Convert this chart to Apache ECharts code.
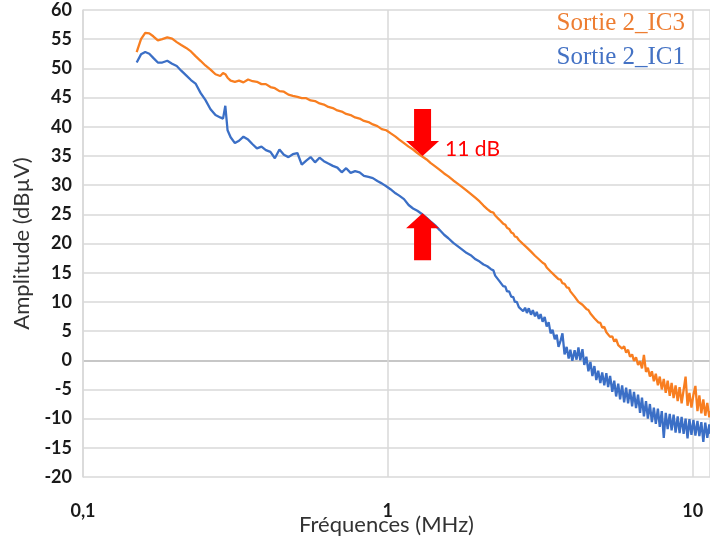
<!DOCTYPE html>
<html>
<head>
<meta charset="utf-8">
<script src="https://cdn.jsdelivr.net/npm/echarts@6/dist/echarts.min.js"></script>
<style>
  html, body { margin: 0; padding: 0; background: #ffffff; }
  #chart { width: 710px; height: 542px; }
</style>
</head>
<body>
<div id="chart"></div>
<script>
// Frequency sweep points (MHz)
const freqMHz = [
  0.150, 0.155, 0.160, 0.165, 0.170, 0.176, 0.182, 0.189, 0.196, 0.203,
  0.210, 0.218, 0.226, 0.234, 0.243, 0.252, 0.262, 0.272, 0.282, 0.288,
  0.293, 0.298, 0.305, 0.315, 0.325, 0.336, 0.348, 0.360, 0.372, 0.385,
  0.398, 0.412, 0.426, 0.441, 0.456, 0.472, 0.488, 0.505, 0.522, 0.540,
  0.558, 0.577, 0.597, 0.617, 0.638, 0.660, 0.683, 0.706, 0.730, 0.755,
  0.781, 0.808, 0.835, 0.864, 0.893, 0.924, 0.955, 0.988, 1.02, 1.06,
  1.09, 1.13, 1.17, 1.21, 1.25, 1.29, 1.34, 1.38, 1.43, 1.48,
  1.53, 1.58, 1.64, 1.69, 1.75, 1.81, 1.87, 1.94, 2.00,
  2.03, 2.06, 2.09, 2.12, 2.15, 2.18, 2.22, 2.25, 2.28, 2.32,
  2.35, 2.39, 2.43, 2.46, 2.50, 2.54, 2.58, 2.61, 2.65, 2.69,
  2.73, 2.78, 2.82, 2.86, 2.90, 2.95, 2.99, 3.04, 3.08, 3.13,
  3.17, 3.22, 3.27, 3.32, 3.37, 3.42, 3.47, 3.53, 3.58, 3.63,
  3.69, 3.74, 3.80, 3.86, 3.92, 3.97, 4.03, 4.10, 4.16, 4.22,
  4.28, 4.35, 4.41, 4.48, 4.55, 4.62, 4.69, 4.76, 4.83, 4.90,
  4.98, 5.05, 5.13, 5.21, 5.28, 5.36, 5.45, 5.53, 5.61, 5.70,
  5.78, 5.87, 5.96, 6.05, 6.14, 6.23, 6.33, 6.42, 6.52, 6.62,
  6.72, 6.82, 6.92, 7.03, 7.13, 7.24, 7.35, 7.46, 7.57, 7.69,
  7.80, 7.92, 8.04, 8.16, 8.28, 8.41, 8.53, 8.66, 8.79, 8.93,
  9.06, 9.20, 9.34, 9.48, 9.62, 9.76, 9.91, 10.06, 10.21, 10.37,
  10.52, 10.68, 10.84, 11.00, 11.17, 11.34, 11.40
];

// Sortie 2_IC3 amplitude (dBµV)
const ampIC3 = [
  52.8, 55.0, 56.1, 56.0, 55.5, 54.8, 55.0, 55.3, 55.1, 54.5,
  54.0, 53.5, 52.9, 52.1, 51.3, 50.5, 49.8, 49.0, 48.7, 49.2,
  49.0, 48.4, 47.9, 47.7, 47.9, 47.6, 48.1, 47.8, 47.7, 47.3,
  47.3, 46.8, 46.6, 46.1, 46.0, 45.5, 45.3, 45.1, 44.9, 44.9,
  44.5, 44.4, 44.0, 43.8, 43.4, 43.2, 42.8, 42.6, 42.2, 42.0,
  41.6, 41.4, 41.0, 40.8, 40.4, 40.1, 39.6, 39.4, 38.9, 38.3,
  37.8, 37.2, 36.6, 36.1, 35.5, 35.0, 34.4, 33.8, 33.2, 32.6,
  32.0, 31.5, 30.8, 30.3, 29.7, 29.1, 28.5, 27.8, 27.2,
  26.9, 26.5, 26.4, 25.9, 25.9, 25.4, 25.3, 24.8, 24.7, 24.1,
  24.0, 23.4, 23.2, 22.7, 22.5, 21.9, 21.7, 21.2, 21.1, 20.6,
  20.5, 19.9, 19.8, 19.3, 19.2, 18.6, 18.5, 17.9, 17.9, 17.3,
  17.2, 16.7, 16.5, 15.9, 15.7, 15.2, 15.1, 14.5, 14.4, 13.9,
  13.8, 13.2, 13.1, 12.5, 12.4, 11.8, 11.9, 10.9, 11.0, 10.0,
  10.1, 9.5, 9.4, 8.8, 8.6, 8.0, 7.9, 7.2, 7.1, 6.5,
  6.4, 5.6, 5.7, 4.8, 4.9, 4.0, 4.1, 3.2, 3.6, 2.6,
  2.9, 2.0, 2.4, 1.3, 1.8, 0.6, 1.0, -0.1, 0.5, -0.8,
  -0.2, -1.4, 0.9, -2.0, -1.3, -2.8, -1.9, -3.6, -2.3, -4.3,
  -2.8, -5.0, -3.2, -5.6, -3.5, -6.1, -3.9, -6.5, -4.3, -7.0,
  -4.6, -7.4, -5.1, -2.8, -7.8, -5.6, -8.1, -5.9, -4.4, -8.7,
  -6.0, -9.1, -6.7, -9.5, -7.3, -9.8, -8.7
];

// Sortie 2_IC1 amplitude (dBµV)
const ampIC1 = [
  51.0, 52.4, 52.8, 52.5, 51.8, 51.0, 51.0, 51.3, 50.8, 50.4,
  49.6, 48.8, 48.0, 47.4, 45.8, 44.6, 43.0, 42.0, 41.6, 41.4,
  43.6, 39.4, 38.2, 37.2, 37.6, 38.3, 37.8, 37.0, 36.3, 36.6,
  36.0, 35.7, 34.6, 36.1, 35.2, 34.8, 35.3, 35.5, 33.5, 34.2,
  34.8, 33.9, 34.7, 34.1, 33.7, 33.3, 33.0, 32.2, 32.9, 32.1,
  32.4, 32.2, 31.6, 31.4, 31.2, 30.7, 30.3, 29.8, 29.3, 28.6,
  28.2, 27.6, 26.6, 26.0, 25.6, 25.1, 24.4, 23.8, 23.1, 22.3,
  21.5, 20.9, 20.1, 19.6, 19.0, 18.4, 18.0, 17.3, 16.9,
  16.9, 16.4, 16.6, 16.1, 16.3, 15.6, 15.4, 14.5, 14.5, 13.6,
  13.6, 12.7, 12.6, 11.8, 11.8, 10.9, 10.8, 10.0, 10.0, 9.1,
  9.4, 8.4, 9.0, 8.1, 8.9, 7.8, 8.6, 7.5, 8.3, 7.1,
  7.9, 6.6, 7.4, 5.8, 6.5, 4.6, 5.2, 3.6, 4.4, 2.3,
  3.4, 4.6, 1.0, 2.3, 0.3, 1.8, -0.1, 1.7, 0.1, 2.2,
  0.0, 1.9, -0.8, 0.6, -1.9, -0.3, -2.7, -1.0, -3.4, -1.8,
  -3.9, -2.1, -4.3, -2.2, -4.6, -2.7, -5.4, -3.5, -6.2, -4.0,
  -6.7, -4.3, -7.2, -4.7, -7.4, -5.0, -7.9, -5.4, -8.2, -5.9,
  -9.0, -6.4, -9.6, -7.0, -10.0, -7.5, -10.6, -8.1, -10.9, -8.3,
  -11.4, -8.7, -13.3, -9.0, -11.8, -9.2, -12.0, -9.3, -12.4, -9.6,
  -12.5, -9.7, -12.6, -10.0, -13.4, -10.1, -12.8, -10.2, -12.9, -10.4,
  -13.0, -10.6, -14.0, -10.7, -13.3, -11.0, -12.6
];

// Series names
const seriesNames = ['Sortie 2_IC3', 'Sortie 2_IC1'];

// Axis tick labels
const xTickValues = [0.1, 1, 10];
const xTickLabels = ['0,1', '1', '10'];

// 11 dB gap marker: frequency and levels of the two traces at the arrows
const gapFreq = 1.3;
const gapTopLevel = 35.0;
const gapBottomLevel = 25.2;
const gapLabel = '11 dB';

function pairs(xs, ys) {
  const n = Math.min(xs.length, ys.length);
  const out = [];
  for (let i = 0; i < n; i++) out.push([xs[i], ys[i]]);
  return out;
}

const ORANGE = '#F87E20';
const BLUE = '#3B6FC6';
const GRID = '#d9d9d9';

// y split lines: the 0 dBµV line is a little darker
const ySplitColors = [];
for (let v = -20; v <= 60; v += 5) ySplitColors.push(v === 0 ? '#b4b4b4' : GRID);

const ARROW_DOWN = 'path://M8,0L25,0L25,32L33,32L16.5,47L0,32L8,32Z';
const ARROW_UP = 'path://M16.5,0L33,15L25,15L25,47L8,47L8,15L0,15Z';

const chart = echarts.init(document.getElementById('chart'), null, { renderer: 'canvas' });

chart.setOption({
  animation: false,
  backgroundColor: '#ffffff',
  grid: { left: 83, right: 0, top: 10, bottom: 65, containLabel: false, outerBoundsMode: 'none' },
  legend: {
    orient: 'vertical',
    right: 20,
    top: 6,
    icon: 'none',
    itemWidth: 0,
    itemHeight: 0,
    itemGap: 9,
    selectedMode: false,
    textStyle: { fontFamily: 'Liberation Serif', fontSize: 25 },
    data: [
      { name: seriesNames[0], textStyle: { color: '#ED7D31' } },
      { name: seriesNames[1], textStyle: { color: '#4472C4' } }
    ]
  },
  xAxis: {
    type: 'log',
    logBase: 10,
    min: 0.1,
    max: 11.4,
    name: 'Fréquences (MHz)',
    nameLocation: 'middle',
    nameGap: 37,
    nameMoveOverlap: false,
    nameTextStyle: { fontFamily: 'Lato', fontSize: 22, color: '#333333', padding: [0, 20, 0, 0] },
    axisLine: { show: false },
    axisTick: { show: false },
    axisLabel: {
      margin: 25,
      fontFamily: 'Lato',
      fontWeight: 'bold',
      fontSize: 18,
      color: '#1a1a1a',
      formatter: function (v) {
        for (let i = 0; i < xTickValues.length; i++) {
          if (Math.abs(v - xTickValues[i]) < xTickValues[i] * 1e-6) return xTickLabels[i];
        }
        return '';
      }
    },
    splitLine: { show: true, lineStyle: { color: GRID, width: 1.5 } },
    minorSplitLine: { show: false }
  },
  yAxis: {
    type: 'value',
    min: -20,
    max: 60,
    interval: 5,
    name: 'Amplitude (dBµV)',
    nameLocation: 'middle',
    nameGap: 50,
    nameMoveOverlap: false,
    nameTextStyle: { fontFamily: 'Lato', fontSize: 22, color: '#333333' },
    axisLine: { show: true, lineStyle: { color: GRID, width: 1.5 } },
    axisTick: { show: false },
    axisLabel: {
      margin: 11,
      fontFamily: 'Lato',
      fontWeight: 'bold',
      fontSize: 18,
      color: '#1a1a1a'
    },
    splitLine: { show: true, lineStyle: { color: ySplitColors, width: 1.5 } }
  },
  series: [
    {
      name: seriesNames[1],
      type: 'line',
      data: pairs(freqMHz, ampIC1),
      showSymbol: false,
      smooth: false,
      color: BLUE,
      lineStyle: { width: 2.3, color: BLUE },
      z: 2
    },
    {
      name: seriesNames[0],
      type: 'line',
      data: pairs(freqMHz, ampIC3),
      showSymbol: false,
      smooth: false,
      color: ORANGE,
      lineStyle: { width: 2.3, color: ORANGE },
      z: 3,
      markPoint: {
        silent: true,
        animation: false,
        data: [
          {
            coord: [gapFreq, gapTopLevel],
            symbol: ARROW_DOWN,
            symbolSize: [33, 47],
            symbolOffset: [0, '-50%'],
            itemStyle: { color: '#ff0000' },
            label: { show: false }
          },
          {
            coord: [gapFreq, gapBottomLevel],
            symbol: ARROW_UP,
            symbolSize: [33, 47],
            symbolOffset: [0, '50%'],
            itemStyle: { color: '#ff0000' },
            label: { show: false }
          },
          {
            coord: [gapFreq, gapTopLevel],
            symbol: 'circle',
            symbolSize: 1,
            itemStyle: { color: 'transparent' },
            label: {
              show: true,
              formatter: gapLabel,
              position: 'right',
              distance: 22,
              offset: [0, -7],
              fontFamily: 'Lato',
              fontSize: 21,
              color: '#ff0000'
            }
          }
        ]
      }
    }
  ]
});
</script>
</body>
</html>
